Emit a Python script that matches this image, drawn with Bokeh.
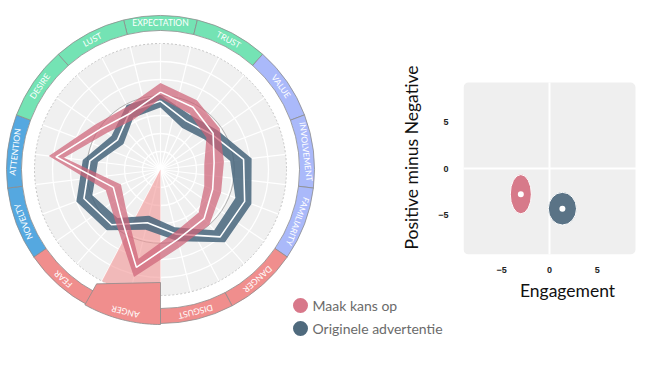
import numpy as np
from bokeh.plotting import figure
from bokeh.models import Range1d, GridBox, FixedTicker, Span
from bokeh.core.properties import value
from bokeh.embed import file_html
from bokeh.resources import INLINE

# ---------------- data ----------------
categories = ["EXPECTATION", "TRUST", "VALUE", "INVOLVEMENT", "FAMILIARITY", "DANGER",
              "DISGUST", "ANGER", "FEAR", "NOVELTY", "ATTENTION", "DESIRE", "LUST"]
category_group = ["green", "green", "lavender", "lavender", "lavender", "salmon",
                  "salmon", "salmon", "salmon", "blue", "blue", "green", "green"]
highlight = "ANGER"

series_names = ["Maak kans op", "Originele advertentie"]

pink_mean = [4.3, 3.9, 3.55, 3.0, 3.1, 3.65, 4.0, 5.6, 3.35, 2.8, 5.85, 4.0, 3.55]
pink_low = [3.95, 3.5, 3.1, 2.45, 2.6, 3.2, 3.55, 5.1, 2.9, 2.35, 5.4, 3.6, 3.15]
pink_high = [4.8, 4.35, 4.0, 3.55, 3.6, 4.1, 4.45, 6.15, 3.8, 3.25, 6.25, 4.4, 3.95]

blue_mean = [3.8, 3.05, 3.45, 4.65, 5.0, 5.0, 3.7, 3.05, 4.1, 4.55, 3.95, 2.9, 3.65]
blue_low = [3.45, 2.6, 2.95, 3.9, 4.45, 4.5, 3.3, 2.65, 3.6, 4.05, 3.5, 2.5, 3.25]
blue_high = [4.15, 3.45, 3.85, 5.1, 5.4, 5.4, 4.1, 3.45, 4.5, 5.0, 4.35, 3.3, 4.05]

benchmark = 4.1
radar_max = 7

engagement = [-3.0, 1.35]
pos_minus_neg = [-2.75, -4.3]
engagement_spread = [2.2, 2.95]
valence_spread = [4.2, 3.5]
x_ticks = [-5, 0, 5]
y_ticks = [-5, 0, 5]
x_lim = [-9, 9]
y_lim = [-9.2, 9.2]

# ---------------- style ----------------
W, H = 671, 387
CX, CY = 160, 169
UNIT = 18.0
R_DISC = radar_max * UNIT
R_IN, R_OUT = 139, 154
group_colors = {"green": "#74e3b4", "lavender": "#aab9fa", "salmon": "#f08e8d", "blue": "#55a8e0"}
PINK = "#cf6478"
BLUE = "#46657b"
FONT = "Lato"

n = len(categories)
dth = 2 * np.pi / n
theta = np.arange(n) * dth


def pol(r, th):
    r = np.asarray(r, dtype=float)
    th = np.asarray(th, dtype=float)
    return r * np.sin(th), r * np.cos(th)


# ---------------- radar figure ----------------
p1 = figure(width=W, height=H, x_range=Range1d(-CX, W - CX), y_range=Range1d(CY - H, CY),
            toolbar_location=None, output_backend="svg", min_border=0,
            x_axis_type=None, y_axis_type=None)
p1.outline_line_color = None
p1.background_fill_alpha = 0
p1.border_fill_alpha = 0
p1.frame_align = False

# disc
p1.circle(x=[0], y=[0], radius=R_DISC, fill_color="#f0f0f0", line_color="#c4c4c4",
          line_dash="2 2", line_width=1)
# rings
ring_r = [UNIT * k for k in range(1, radar_max)]
p1.circle(x=[0] * len(ring_r), y=[0] * len(ring_r), radius=ring_r, fill_color=None,
          line_color="white", line_width=1.3)
# spokes
sp = np.arange(2 * n) * dth / 2
sx, sy = pol(R_DISC, sp)
p1.segment(x0=[0] * len(sp), y0=[0] * len(sp), x1=sx, y1=sy, line_color="white", line_width=1.2)

# benchmark circle
p1.circle(x=[0], y=[0], radius=benchmark * UNIT, fill_color=None, line_color="#8a8a8a",
          line_alpha=0.6, line_width=1)

# highlighted sector
hk = categories.index(highlight)
p1.annular_wedge(x=[0], y=[0], inner_radius=0, outer_radius=R_DISC,
                 start_angle=np.pi / 2 - (theta[hk] + dth / 2),
                 end_angle=np.pi / 2 - (theta[hk] - dth / 2),
                 fill_color="#f29595", fill_alpha=0.6, line_color=None)

# outer ring segments
idx = [k for k in range(n) if categories[k] != highlight]
p1.annular_wedge(x=[0] * len(idx), y=[0] * len(idx), inner_radius=R_IN, outer_radius=R_OUT,
                 start_angle=[float(np.pi / 2 - (theta[k] + dth / 2)) for k in idx],
                 end_angle=[float(np.pi / 2 - (theta[k] - dth / 2)) for k in idx],
                 fill_color=[group_colors[category_group[k]] for k in idx],
                 line_color="#8d8d8d", line_width=0.8)
# highlighted segment (enlarged inward)
t0, t1 = theta[hk] - dth / 2, theta[hk] + dth / 2 + np.radians(1.5)
arc = np.linspace(t0, t1, 30)
ox, oy = pol(R_OUT + 1, arc)
ix0, iy0 = pol(131, t1)
ix1, iy1 = pol(113, t0)
hx = list(ox) + [float(ix0), float(ix1)]
hy = list(oy) + [float(iy0), float(iy1)]
p1.patch(hx, hy, fill_color=group_colors[category_group[hk]], line_color="#8d8d8d", line_width=0.8)

# labels
lx, ly = pol(146.5, theta)
p1.text(x=list(lx), y=list(ly), text=categories, angle=list(-theta), text_align="center",
        text_baseline="middle", text_color="white", text_font_size="8.5px",
        text_font=value(FONT))


# bands
def band(low, high, color, alpha):
    ox_, oy_ = pol(np.array(high) * UNIT, theta)
    ix_, iy_ = pol(np.array(low) * UNIT, theta)
    p1.multi_polygons(xs=[[[list(ox_), list(ix_)]]], ys=[[[list(oy_), list(iy_)]]],
                      fill_color=color, fill_alpha=alpha, line_color=None)


def mean_line(mean):
    mx, my = pol(np.array(mean + mean[:1]) * UNIT, np.append(theta, theta[0]))
    p1.line(list(mx), list(my), line_color="white", line_width=1.6)


band(blue_low, blue_high, BLUE, 0.85)
mean_line(blue_mean)
band(pink_low, pink_high, PINK, 0.72)
mean_line(pink_mean)

# legend
leg_y = [CY - 305, CY - 328]
p1.scatter(x=[300 - CX] * 2, y=leg_y, size=15, fill_color=["#d8788a", "#4f6a7d"], line_color=None)
p1.text(x=[312 - CX] * 2, y=leg_y, text=series_names, text_baseline="middle",
        text_align="left", text_color="#6b6b6b", text_font_size="14px", text_font=value(FONT))

# ---------------- scatter figure ----------------
# the plot area is a bit larger than the grey panel (as in the original chart)
px_per_x = 172 / (x_lim[1] - x_lim[0])
px_per_y = 172 / (y_lim[1] - y_lim[0])
p2 = figure(width=W, height=H,
            x_range=Range1d(x_lim[0], x_lim[1] + 36 / px_per_x),
            y_range=Range1d(y_lim[0], y_lim[1] + 22 / px_per_y),
            toolbar_location=None, output_backend="svg",
            min_border_left=463, min_border_right=0, min_border_top=60, min_border_bottom=133)
p2.frame_align = False
p2.border_fill_color = "white"
p2.background_fill_color = "white"
p2.outline_line_color = None
p2.grid.visible = False
p2.quad(left=[x_lim[0]], right=[x_lim[1]], bottom=[y_lim[0]], top=[y_lim[1]],
        fill_color="#efefef", line_color=None, border_radius=5)
p2.segment(x0=[x_lim[0]], x1=[x_lim[1] + 1], y0=[0], y1=[0], line_color="white", line_width=2)
p2.segment(x0=[0], x1=[0], y0=[y_lim[0]], y1=[y_lim[1]], line_color="white", line_width=2)
p2.ellipse(x=engagement, y=pos_minus_neg, width=engagement_spread, height=valence_spread,
           fill_color=["#d77a8a", "#5a7386"], line_color="white", line_width=1)
p2.scatter(x=engagement, y=pos_minus_neg, size=6, fill_color="white", line_color=None)

p2.xaxis.ticker = FixedTicker(ticks=x_ticks)
p2.yaxis.ticker = FixedTicker(ticks=y_ticks)
p2.xaxis.axis_label = "Engagement"
p2.yaxis.axis_label = "Positive minus Negative"
for ax in (p2.xaxis[0], p2.yaxis[0]):
    ax.axis_line_color = None
    ax.major_tick_line_color = None
    ax.minor_tick_line_color = None
    ax.major_label_text_font = "Liberation Sans"
    ax.major_label_text_font_style = "bold"
    ax.major_label_text_font_size = "9px"
    ax.major_label_text_color = "#222222"
    ax.axis_label_text_font = FONT
    ax.axis_label_text_font_style = "normal"
    ax.axis_label_text_color = "#111111"
p2.xaxis.major_label_standoff = 6
p2.yaxis.major_label_standoff = 9
p2.xaxis.axis_label_text_font_size = "17.5px"
p2.yaxis.axis_label_text_font_size = "17.5px"
p2.xaxis.axis_label_standoff = 4
p2.yaxis.axis_label_standoff = 13

# radar (transparent) drawn over the scatter figure in the same grid cell
layout = GridBox(children=[(p2, 0, 0), (p1, 0, 0)])

open("out.html", "w").write(file_html(layout, INLINE))
